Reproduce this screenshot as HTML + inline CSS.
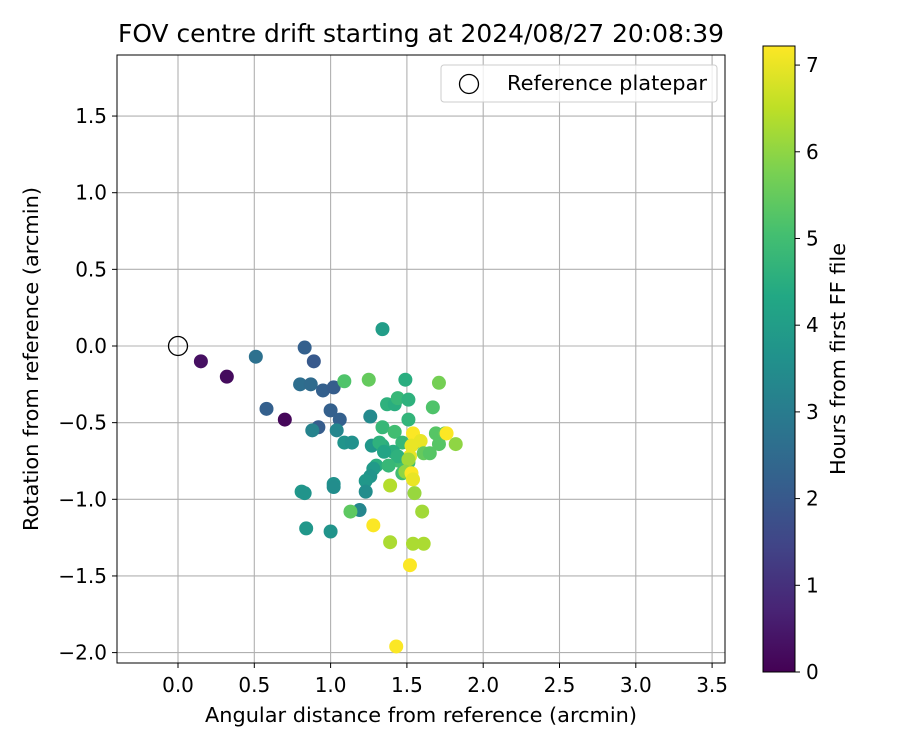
<!DOCTYPE html>
<html><head><meta charset="utf-8">
<style>
body{margin:0;background:#fff;font-family:"DejaVu Sans","Liberation Sans",sans-serif;}
svg text{font-family:"DejaVu Sans","Liberation Sans",sans-serif;}
</style></head>
<body>
<svg id="chart" width="900" height="750" xmlns="http://www.w3.org/2000/svg">
<defs>
<linearGradient id="vir" x1="0" y1="1" x2="0" y2="0">
<stop offset="0" stop-color="#440154"/><stop offset="0.1" stop-color="#482475"/><stop offset="0.2" stop-color="#414487"/><stop offset="0.3" stop-color="#355f8d"/><stop offset="0.4" stop-color="#2a788e"/><stop offset="0.5" stop-color="#21918c"/><stop offset="0.6" stop-color="#22a884"/><stop offset="0.7" stop-color="#44bf70"/><stop offset="0.8" stop-color="#7ad151"/><stop offset="0.9" stop-color="#bddf26"/><stop offset="1" stop-color="#fde725"/>
</linearGradient>
</defs>
<rect width="900" height="750" fill="#fff"/>
<text x="421" y="42" font-size="24.5" text-anchor="middle" textLength="606" lengthAdjust="spacingAndGlyphs">FOV centre drift starting at 2024/08/27 20:08:39</text>
<g id="grid"></g>
<g id="pts"></g>
<rect x="117" y="55" width="608" height="608" fill="none" stroke="#000" stroke-width="1"/>
<g id="axes"></g>
<text x="421" y="722" font-size="20.5" text-anchor="middle" textLength="432" lengthAdjust="spacingAndGlyphs">Angular distance from reference (arcmin)</text>
<text transform="translate(38,359) rotate(-90)" font-size="20.5" text-anchor="middle" textLength="344" lengthAdjust="spacingAndGlyphs">Rotation from reference (arcmin)</text>
<g>
<rect x="441" y="65" width="276" height="37" rx="3" fill="#fff" fill-opacity="0.8" stroke="#ccc"/>
<circle cx="469" cy="84" r="9.5" fill="none" stroke="#000" stroke-width="1.3"/>
<text x="507" y="90" font-size="20" textLength="200" lengthAdjust="spacingAndGlyphs">Reference platepar</text>
</g>
<rect x="763" y="46" width="32" height="626" fill="url(#vir)" stroke="#000" stroke-width="1"/>
<g id="cbar"></g>
<text transform="translate(845,359) rotate(-90)" font-size="20.5" text-anchor="middle" textLength="232" lengthAdjust="spacingAndGlyphs">Hours from first FF file</text>
</svg>
<script>
const xTicks=[0.0,0.5,1.0,1.5,2.0,2.5,3.0,3.5];
const yTicks=[1.5,1.0,0.5,0.0,-0.5,-1.0,-1.5,-2.0];
const cTicks=[0,1,2,3,4,5,6,7];
const xs=[0.15,0.32,0.70,0.51,0.58,0.83,0.89,0.80,0.87,0.95,1.02,1.00,1.06,0.92,0.88,1.04,1.09,1.14,1.34,1.09,1.25,1.49,1.71,1.37,1.42,1.26,1.44,1.51,1.51,1.67,1.34,1.42,1.27,1.34,1.47,1.54,1.69,1.75,1.71,1.82,1.54,1.59,1.53,1.52,1.76,1.41,1.45,1.51,1.44,1.32,1.35,1.61,1.30,1.38,1.47,1.51,1.49,1.65,1.28,1.26,1.23,1.23,1.53,1.54,1.39,1.55,0.81,0.83,1.02,1.02,1.19,1.13,1.60,0.84,1.00,1.28,1.39,1.54,1.61,1.52,1.43];
const ys=[-0.10,-0.20,-0.48,-0.07,-0.41,-0.01,-0.10,-0.25,-0.25,-0.29,-0.27,-0.42,-0.48,-0.53,-0.55,-0.55,-0.63,-0.63,0.11,-0.23,-0.22,-0.22,-0.24,-0.38,-0.38,-0.46,-0.34,-0.35,-0.48,-0.40,-0.53,-0.56,-0.65,-0.65,-0.63,-0.64,-0.57,-0.57,-0.64,-0.64,-0.57,-0.62,-0.65,-0.72,-0.57,-0.69,-0.75,-0.76,-0.72,-0.63,-0.69,-0.70,-0.78,-0.78,-0.83,-0.74,-0.82,-0.70,-0.80,-0.85,-0.88,-0.95,-0.83,-0.87,-0.91,-0.96,-0.95,-0.96,-0.90,-0.92,-1.07,-1.08,-1.08,-1.19,-1.21,-1.17,-1.28,-1.29,-1.29,-1.43,-1.96];
const hours=[0.3,0.2,0.1,2.7,2.2,2.2,2.0,2.6,2.5,2.2,2.1,2.2,2.2,2.1,3.2,3.3,3.7,3.6,4.0,5.2,5.5,4.5,5.7,4.6,4.5,3.4,4.8,4.6,4.7,5.2,4.8,5.0,3.8,4.5,4.8,5.2,5.3,5.4,5.3,6.0,7.2,7.0,7.0,7.0,7.2,4.5,5.0,5.0,4.6,4.6,4.2,5.5,4.5,4.8,5.0,6.2,6.0,5.3,3.9,3.7,3.8,3.5,7.2,7.0,6.4,6.1,3.8,3.7,3.6,3.5,3.3,5.4,6.2,3.8,3.7,7.2,6.3,6.3,6.3,7.2,7.2];
const X=v=>178+v*152.6, Y=v=>346-v*153.3, HMAX=7.22, C=v=>672-v/HMAX*626;
const vir=[[68,1,84],[72,36,117],[65,68,135],[53,95,141],[42,120,142],[33,145,140],[34,168,132],[68,191,112],[122,209,81],[189,223,38],[253,231,37]];
function col(h){let t=Math.max(0,Math.min(1,h/HMAX))*(vir.length-1);let i=Math.min(Math.floor(t),vir.length-2),f=t-i;
 const c=vir[i].map((a,k)=>Math.round(a+(vir[i+1][k]-a)*f));return `rgb(${c})`;}
const NS="http://www.w3.org/2000/svg";
function mk(tag,attrs,parent,txt){const e=document.createElementNS(NS,tag);for(const k in attrs)e.setAttribute(k,attrs[k]);if(txt!==undefined)e.textContent=txt;parent.appendChild(e);return e;}
const grid=document.getElementById('grid'),axes=document.getElementById('axes'),pts=document.getElementById('pts'),cb=document.getElementById('cbar');
xTicks.forEach(v=>{
 const g=mk('line',{x1:X(v),x2:X(v),y1:55,y2:663,stroke:'#b0b0b0','stroke-width':1.1},grid);
 
 
 mk('line',{x1:X(v),x2:X(v),y1:663,y2:668,stroke:'#000'},axes);
 const t=mk('text',{x:X(v),y:692,'font-size':20,'text-anchor':'middle'},axes,v.toFixed(1));
 
 
});
yTicks.forEach(v=>{
 const g=mk('line',{x1:117,x2:725,y1:Y(v),y2:Y(v),stroke:'#b0b0b0','stroke-width':1.1},grid);
 
 
 mk('line',{x1:112,x2:117,y1:Y(v),y2:Y(v),stroke:'#000'},axes);
 const t=mk('text',{x:107,y:Y(v)+7,'font-size':20,'text-anchor':'end'},axes,v.toFixed(1).replace('-','−'));
 
 
});
const ref=mk('circle',{cx:X(0),cy:Y(0),r:9.5,fill:'none',stroke:'#000','stroke-width':1.3},pts);


xs.forEach((x,i)=>{
 const p=mk('circle',{cx:X(x),cy:Y(ys[i]),r:7,fill:col(hours[i])},pts);
 
 
});
cTicks.forEach(v=>{
 mk('line',{x1:795,x2:800,y1:C(v),y2:C(v),stroke:'#000'},cb);
 const t=mk('text',{x:806,y:C(v)+7,'font-size':20},cb,String(v));
 
 
});
</script>
</body></html>
